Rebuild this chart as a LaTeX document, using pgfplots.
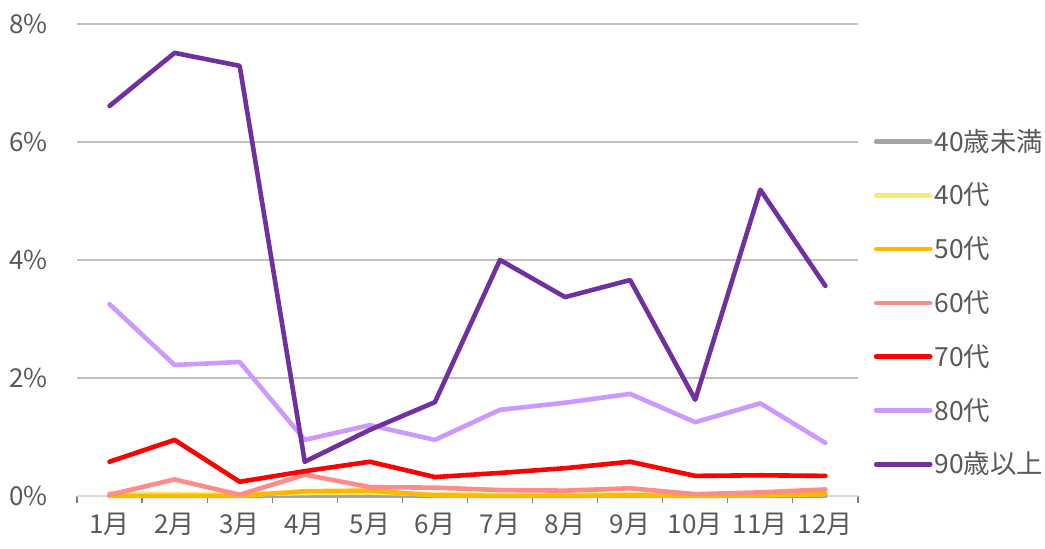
\documentclass[border=0pt]{standalone}
\usepackage{pgfplots}
\pgfplotsset{compat=1.18}
\usepackage{fontspec}
\setmainfont{Noto Sans CJK JP}
\definecolor{txt}{HTML}{595959}
\definecolor{grid}{HTML}{D9D9D9}
\definecolor{cU40}{HTML}{A5A5A5}
\definecolor{c40}{HTML}{F7EB74}
\definecolor{c50}{HTML}{FFB800}
\definecolor{c60}{HTML}{FF8B8B}
\definecolor{c70}{HTML}{FF0000}
\definecolor{c80}{HTML}{CC99FF}
\definecolor{c90}{HTML}{7030A0}
\begin{document}
\begin{tikzpicture}
\path (0,0) rectangle (522.5pt,274.5pt);
\begin{axis}[
  at={(38.5pt,26.5pt)}, anchor=south west,
  scale only axis, width=390.5pt, height=236pt,
  xmin=-0.5, xmax=11.5, ymin=0, ymax=8,
  axis x line*=bottom, axis y line*=left,
  x axis line style={grid, line width=0.6pt, -},
  y axis line style={draw=none},
  xtick={0,...,11},
  xticklabels={1月,2月,3月,4月,5月,6月,7月,8月,9月,10月,11月,12月},
  minor xtick={-0.5,0.5,...,11.5},
  major tick length=0pt,
  minor tick length=3.5pt,
  minor tick style={grid, line width=0.6pt},
  tick align=outside,
  ytick={0,2,4,6,8},
  yticklabels={0\%,2\%,4\%,6\%,8\%},
  ymajorgrids, xmajorgrids=false, xminorgrids=false,
  grid style={grid, line width=0.6pt},
  tick label style={font=\fontsize{13pt}{15pt}\selectfont, text=txt},
  xticklabel shift=5pt,
  yticklabel shift=11pt,
  clip=false,
  every axis plot/.append style={line width=2.3pt, line join=round, line cap=round},
  legend cell align=left,
  legend style={at={(1.02,0.774)}, anchor=north west, draw=none, fill=none,
    font=\fontsize{13.2pt}{15pt}\selectfont, text=txt, row sep=13.4pt,
    inner sep=0pt,
    nodes={inner sep=1pt, text height=9pt, text depth=2.5pt}},
  legend image code/.code={\draw[#1, line width=2.3pt, line cap=round] (0pt,1.5pt) -- (27pt,1.5pt);},
]
\addplot[cU40] coordinates {(0,0)(1,0)(2,0)(3,0)(4,0)(5,0)(6,0)(7,0)(8,0)(9,0)(10,0)(11,0)};
\addlegendentry{40歳未満}
\addplot[c40] coordinates {(0,0.05)(1,0.03)(2,0.03)(3,0.05)(4,0.06)(5,0.03)(6,0.02)(7,0.02)(8,0.03)(9,0.01)(10,0.02)(11,0.05)};
\addlegendentry{40代}
\addplot[c50] coordinates {(0,0.0)(1,0.0)(2,0.0)(3,0.08)(4,0.09)(5,0.01)(6,0.0)(7,0.0)(8,0.01)(9,0.0)(10,0.01)(11,0.03)};
\addlegendentry{50代}
\addplot[c60] coordinates {(0,0.02)(1,0.28)(2,0.02)(3,0.36)(4,0.15)(5,0.14)(6,0.10)(7,0.09)(8,0.13)(9,0.03)(10,0.06)(11,0.11)};
\addlegendentry{60代}
\addplot[c70] coordinates {(0,0.58)(1,0.95)(2,0.24)(3,0.42)(4,0.58)(5,0.32)(6,0.39)(7,0.47)(8,0.58)(9,0.34)(10,0.35)(11,0.34)};
\addlegendentry{70代}
\addplot[c80] coordinates {(0,3.25)(1,2.22)(2,2.27)(3,0.95)(4,1.20)(5,0.95)(6,1.46)(7,1.58)(8,1.73)(9,1.25)(10,1.57)(11,0.90)};
\addlegendentry{80代}
\addplot[c90] coordinates {(0,6.61)(1,7.51)(2,7.29)(3,0.58)(4,1.12)(5,1.59)(6,4.00)(7,3.37)(8,3.66)(9,1.63)(10,5.19)(11,3.56)};
\addlegendentry{90歳以上}
\end{axis}
\end{tikzpicture}
\end{document}
